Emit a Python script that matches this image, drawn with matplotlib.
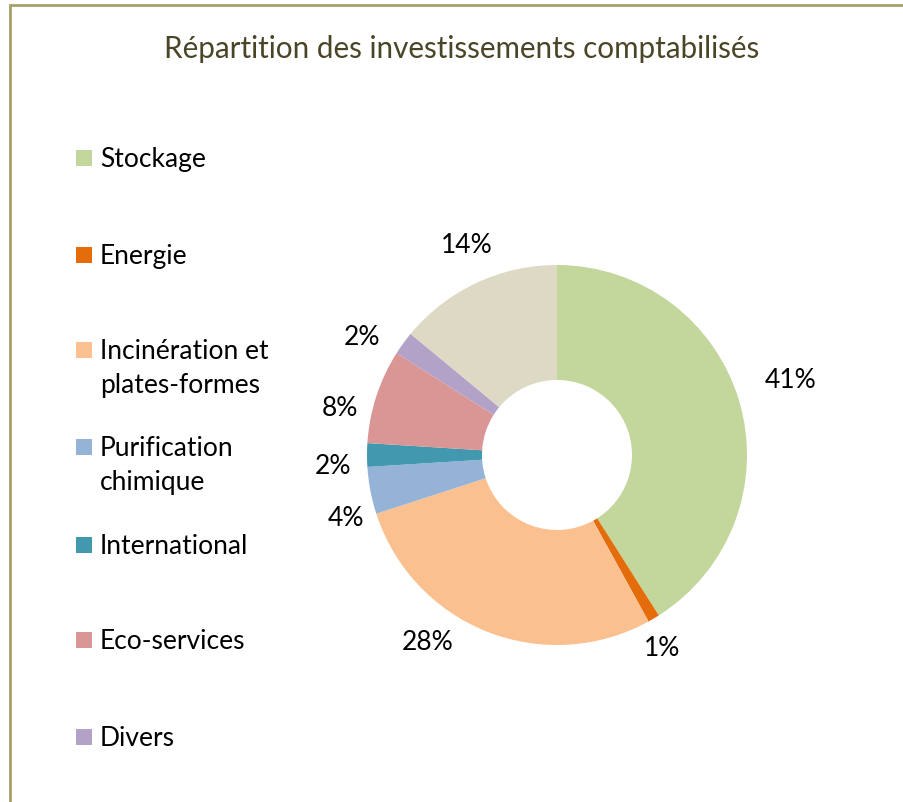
import numpy as np
import matplotlib
matplotlib.use('Agg')
from matplotlib import pyplot as plt
from matplotlib.patches import Rectangle

plt.rcParams['font.family'] = ['Lato', 'DejaVu Sans']

categories = ['Stockage', 'Energie', 'Incinération et\nplates-formes', 'Purification\nchimique',
              'International', 'Eco-services', 'Divers', 'Autres']
values = [41, 1, 28, 4, 2, 8, 2, 14]
colors = ['#c3d69b', '#e46c0a', '#fac090', '#95b3d7', '#4198af', '#d99694', '#b3a2c7', '#ddd9c4']
# label placement around the ring: radius and angle shift (deg)
label_r = [1.29, 1.16, 1.2, 1.16, 1.18, 1.17, 1.2, 1.2]
label_shift = [1.5, -2, -13, 6, 3, 6, 5, -2]

W, H = 904, 802
fig = plt.figure(figsize=(W / 100, H / 100), dpi=100)

# frame (runs off the right and bottom edges like the source)
fig.patches.append(Rectangle((10 / W, -0.1), 1.2, (H - 5) / H + 0.1, transform=fig.transFigure,
                             fill=False, edgecolor='#a3a06a', linewidth=2))

fig.text(462 / W, 1 - 49 / H, 'Répartition des investissements comptabilisés',
         ha='center', va='center', fontsize=21.3, color='#4a4526')

cx, cy, R = 557, 455, 190
ax = fig.add_axes([(cx - R) / W, (H - cy - R) / H, 2 * R / W, 2 * R / H])
wedges, _ = ax.pie(values, colors=colors, startangle=90, counterclock=False,
                   wedgeprops=dict(width=115 / 190, edgecolor='none'))
ax.set_xlim(-1, 1)
ax.set_ylim(-1, 1)
ax.set_aspect('auto')
ax.axis('off')

for w, v, r, s in zip(wedges, values, label_r, label_shift):
    a = np.deg2rad((w.theta1 + w.theta2) / 2 + s)
    ax.text(r * np.cos(a), r * np.sin(a), '{}%'.format(v), ha='center', va='center',
            fontsize=19, color='black', clip_on=False)

# legend, drawn by hand to follow the source spacing
leg_y = [158, 255, 350, 447, 545, 640, 737]
for name, c, y in zip(categories[:7], colors[:7], leg_y):
    fig.patches.append(Rectangle((76 / W, 1 - (y + 8) / H), 16 / W, 16 / H,
                                 transform=fig.transFigure, facecolor=c, edgecolor='none'))
    fig.text(100 / W, 1 - (y - 11) / H, name, ha='left', va='top', fontsize=19,
             color='black', linespacing=1.45)

fig.savefig('out.png', dpi=100, facecolor='white')
